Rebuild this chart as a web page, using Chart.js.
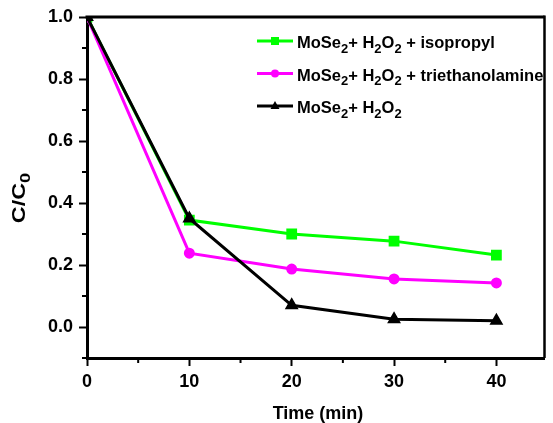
<!DOCTYPE html>
<html>
<head>
<meta charset="utf-8">
<script src="https://cdn.jsdelivr.net/npm/chart.js@4/dist/chart.umd.min.js"></script>
<style>
body{margin:0;background:#fff}
canvas{display:block}
</style>
</head>
<body>
<canvas id="c" width="553" height="423"></canvas>
<script>
const times=[0,10,20,30,40]
const isoVals=[1.0,0.345,0.30,0.277,0.232]
const teoaVals=[1.0,0.238,0.187,0.155,0.142]
const bareVals=[1.0,0.35,0.07,0.025,0.02]
const seriesNames=["MoSe_2+ H_2O_2 + isopropyl","MoSe_2+ H_2O_2 + triethanolamine","MoSe_2+ H_2O_2"]
const xTicks=[0,5,10,15,20,25,30,35,40]
const yTicks=[-0.1,0,0.1,0.2,0.3,0.4,0.5,0.6,0.7,0.8,0.9,1.0]
const xTitle="Time (min)"
const yTitle="C/C_0"

const FONT="'Liberation Sans', Arial, sans-serif"

function pts(vals){
return times.map((t,i)=>({x:t,y:vals[i]}))
}

function isMajorX(v){return v%10==0}
function isMajorY(v){return Math.round(v*10)%2==0 && v>=0}

// text with _x subscripts
function drawSub(ctx,str,x,y,size){
str.split(/(_\S)/).forEach(p=>{
if(p.startsWith("_")){
ctx.font="bold "+Math.round(size*0.8)+"px "+FONT
ctx.fillText(p.slice(1),x,y+size*0.3)
x+=ctx.measureText(p.slice(1)).width
}else if(p){
ctx.font="bold "+size+"px "+FONT
ctx.fillText(p,x,y)
x+=ctx.measureText(p).width
}
})
return x
}
function subWidth(ctx,str,size){
let w=0
str.split(/(_\S)/).forEach(p=>{
if(p.startsWith("_")){ctx.font="bold "+Math.round(size*0.8)+"px "+FONT;w+=ctx.measureText(p.slice(1)).width}
else if(p){ctx.font="bold "+size+"px "+FONT;w+=ctx.measureText(p).width}
})
return w
}

const extras={
id:"extras",
afterDraw(chart){
const ctx=chart.ctx
const a=chart.chartArea
const xs=chart.scales.x, ys=chart.scales.y
ctx.save()
ctx.strokeStyle="#000"
ctx.lineWidth=3
ctx.beginPath()
ctx.moveTo(a.left-1.5,a.top)
ctx.lineTo(a.right,a.top)
ctx.stroke()
ctx.lineWidth=2.5
ctx.beginPath()
ctx.moveTo(a.right,a.top-1.5)
ctx.lineTo(a.right,a.bottom)
ctx.stroke()

// minor ticks
ctx.lineWidth=2
ctx.beginPath()
xTicks.filter(v=>!isMajorX(v)).forEach(v=>{
let px=xs.getPixelForValue(v)
ctx.moveTo(px,a.bottom)
ctx.lineTo(px,a.bottom+5)
})
yTicks.filter(v=>!isMajorY(v)).forEach(v=>{
let py=ys.getPixelForValue(v)
ctx.moveTo(a.left,py)
ctx.lineTo(a.left-5,py)
})
ctx.stroke()

// axis titles
ctx.fillStyle="#000"
ctx.textBaseline="alphabetic"
let tw=subWidth(ctx,xTitle,18)
drawSub(ctx,xTitle,318-tw/2,419,18)
ctx.save()
ctx.translate(25,198)
ctx.rotate(-Math.PI/2)
ctx.scale(1.3,1)
tw=subWidth(ctx,yTitle,18)
drawSub(ctx,yTitle,-tw/2,0,18)
ctx.restore()

// legend
chart.data.datasets.forEach((ds,i)=>{
let ly=41+i*32.5
ctx.strokeStyle=ds.borderColor
ctx.lineWidth=3
ctx.beginPath()
ctx.moveTo(257,ly)
ctx.lineTo(293,ly)
ctx.stroke()
ctx.fillStyle=ds.borderColor
ctx.beginPath()
if(ds.pointStyle=="rect"){ctx.rect(271,ly-4,8,8)}
else if(ds.pointStyle=="circle"){ctx.arc(275,ly,4,0,Math.PI*2)}
else{ctx.moveTo(275,ly-5);ctx.lineTo(279.5,ly+3);ctx.lineTo(270.5,ly+3);ctx.closePath()}
ctx.fill()
ctx.fillStyle="#000"
drawSub(ctx,seriesNames[i],297,ly+7,16.5)
})
ctx.restore()
}
}

new Chart(document.getElementById("c"),{
type:"line",
data:{
datasets:[
{label:seriesNames[0],data:pts(isoVals),borderColor:"#00ff00",backgroundColor:"#00ff00",pointStyle:"rect",pointRadius:5.5,borderWidth:3,order:2},
{label:seriesNames[1],data:pts(teoaVals),borderColor:"#ff00ff",backgroundColor:"#ff00ff",pointStyle:"circle",pointRadius:4,borderWidth:3,order:1},
{label:seriesNames[2],data:pts(bareVals),borderColor:"#000000",backgroundColor:"#000000",pointStyle:"triangle",pointRadius:5,borderWidth:3,order:0}
]
},
options:{
responsive:false,
animation:false,
clip:0,
layout:{padding:{top:17,right:2,left:0,bottom:0}},
plugins:{legend:{display:false},tooltip:{enabled:false}},
elements:{line:{tension:0},point:{borderWidth:0}},
scales:{
x:{
type:"linear",min:0,max:44.7,
afterBuildTicks(s){s.ticks=xTicks.map(v=>({value:v}))},
afterFit(s){s.height=65},
grid:{drawOnChartArea:false,tickLength:8,tickWidth:2,tickColor:c=>isMajorX(c.tick.value)?"#000":"rgba(0,0,0,0)"},
border:{color:"#000",width:3},
ticks:{color:"#000",font:{family:FONT,size:18,weight:"bold"},padding:5,maxRotation:0,
callback:v=>isMajorX(v)?String(v):""}
},
y:{
min:-0.1,max:1.0,
afterBuildTicks(s){s.ticks=yTicks.map(v=>({value:v}))},
afterFit(s){s.width=87},
grid:{drawOnChartArea:false,tickLength:8,tickWidth:2,tickColor:c=>isMajorY(c.tick.value)?"#000":"rgba(0,0,0,0)"},
border:{color:"#000",width:3},
ticks:{color:"#000",font:{family:FONT,size:18,weight:"bold"},padding:6,
callback:v=>isMajorY(v)?v.toFixed(1):""}
}
}
},
plugins:[extras]
})
</script>
</body>
</html>
